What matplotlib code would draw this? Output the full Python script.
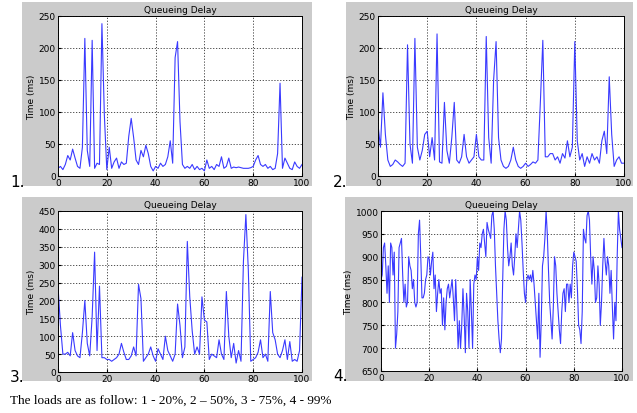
import numpy as np
import matplotlib
matplotlib.use("Agg")
import matplotlib.pyplot as plt
from matplotlib.patches import Rectangle

# queueing delay traces (ms)
t = np.arange(0, 101, 1)
delay_20 = [12, 15, 10, 18, 32, 25, 42, 28, 15, 12,
            45, 215, 40, 15, 212, 12, 20, 18, 238, 95,
            10, 45, 12, 22, 28, 12, 22, 18, 20, 62,
            90, 60, 25, 18, 40, 30, 48, 35, 15, 8,
            15, 12, 20, 15, 18, 30, 55, 20, 185, 210,
            85, 18, 12, 15, 12, 18, 10, 15, 10, 12,
            8, 25, 12, 15, 10, 18, 15, 30, 12, 15,
            28, 12, 14, 13, 14, 13, 12, 12, 12, 13,
            15, 25, 32, 18, 15, 18, 12, 15, 10, 12,
            35, 145, 12, 28, 20, 12, 10, 22, 15, 12,
            18]
delay_50 = [80, 45, 130, 65, 25, 15, 18, 25, 22, 18,
            15, 20, 205, 50, 20, 215, 45, 25, 40, 65,
            70, 30, 60, 25, 222, 22, 20, 115, 40, 20,
            60, 115, 25, 20, 30, 65, 30, 20, 25, 30,
            65, 30, 25, 25, 218, 60, 20, 150, 210, 60,
            25, 15, 12, 15, 25, 45, 25, 15, 12, 15,
            20, 15, 18, 22, 20, 25, 115, 212, 30, 30,
            35, 35, 25, 30, 20, 35, 28, 55, 30, 45,
            210, 55, 25, 35, 15, 30, 20, 35, 25, 30,
            20, 55, 70, 35, 155, 65, 15, 25, 30, 20,
            20]
delay_75 = [240, 130, 50, 50, 55, 45, 110, 60, 45, 40,
            110, 200, 80, 45, 155, 335, 60, 240, 40, 40,
            35, 35, 30, 35, 40, 50, 80, 55, 35, 35,
            45, 70, 45, 245, 205, 30, 40, 50, 70, 45,
            30, 65, 50, 35, 100, 60, 45, 30, 50, 190,
            130, 40, 70, 365, 210, 115, 50, 70, 50, 210,
            145, 140, 35, 50, 45, 40, 90, 50, 35, 225,
            100, 40, 80, 25, 60, 30, 310, 440, 285, 30,
            35, 40, 55, 90, 40, 50, 30, 225, 110, 90,
            50, 40, 60, 90, 35, 85, 30, 35, 30, 60,
            265]

t4 = np.arange(0, 100.5, 0.5)
delay_99 = [850, 860, 920, 930, 880, 820, 880, 800, 930, 920,
            860, 910, 700, 730, 780, 920, 930, 940, 860, 800,
            840, 790, 800, 900, 880, 870, 830, 850, 800, 790,
            800, 950, 980, 900, 810, 810, 820, 850, 860, 900,
            895, 860, 890, 910, 830, 860, 780, 820, 850, 820,
            830, 750, 810, 740, 800, 830, 840, 810, 830, 850,
            810, 760, 850, 780, 700, 760, 700, 750, 830, 770,
            690, 820, 780, 700, 850, 780, 700, 840, 860, 850,
            900, 870, 930, 920, 950, 960, 930, 900, 975, 960,
            950, 940, 990, 1000, 960, 880, 820, 760, 720, 690,
            720, 850, 960, 1000, 980, 920, 880, 900, 930, 880,
            860, 900, 950, 920, 960, 1000, 980, 930, 870, 820,
            800, 850, 860, 850, 860, 845, 870, 840, 800, 760,
            720, 820, 680, 760, 880, 900, 940, 1000, 950, 870,
            800, 760, 720, 790, 900, 880, 820, 780, 740, 710,
            780, 820, 830, 780, 840, 840, 800, 840, 810, 880,
            910, 900, 890, 830, 750, 740, 710, 780, 960, 940,
            930, 990, 1000, 980, 900, 840, 900, 870, 800, 810,
            880, 840, 750, 800, 880, 940, 890, 860, 900, 880,
            820, 870, 790, 720, 800, 760, 900, 1000, 960, 940,
            920]

W, H = 637, 414
fig = plt.figure(figsize=(W / 100, H / 100), dpi=100)
fig.patch.set_facecolor("white")


def px_rect(x0, y0, x1, y1):
    return [x0 / W, 1 - y1 / H, (x1 - x0) / W, (y1 - y0) / H]


# grey matlab figure backgrounds
for x0, y0, x1, y1 in [(22, 3, 312, 187), (346, 3, 633, 187),
                       (22, 198, 312, 382), (345, 198, 633, 382)]:
    fig.patches.append(Rectangle((x0 / W, 1 - y1 / H), (x1 - x0) / W, (y1 - y0) / H,
                                 transform=fig.transFigure, facecolor="#cbcbcb",
                                 edgecolor="none", zorder=-5))

panels = [
    (t, delay_20, px_rect(58, 17, 302, 177), (0, 250), np.arange(0, 251, 50)),
    (t, delay_50, px_rect(378, 17, 624, 177), (0, 250), np.arange(0, 251, 50)),
    (t, delay_75, px_rect(58, 212, 302, 373), (0, 450), np.arange(0, 451, 50)),
    (t4, delay_99, px_rect(381, 212, 622, 372), (650, 1000), np.arange(650, 1001, 50)),
]

for x, y, rect, ylim, yt in panels:
    ax = fig.add_axes(rect)
    ax.set_zorder(2)
    ax.plot(x, y, color="#3a3aff", lw=0.8)
    ax.set_xlim(0, 100)
    ax.set_ylim(*ylim)
    ax.set_xticks([0, 20, 40, 60, 80, 100])
    ax.set_yticks(yt)
    ax.grid(True, color="#333333", linestyle=(0, (1.5, 2)), lw=0.6)
    ax.tick_params(direction="in", length=2, labelsize=6.5, pad=1.5)
    ax.set_title("Queueing Delay", fontsize=6.5, pad=3)
    ax.set_ylabel("Time (ms)", fontsize=6.5, labelpad=2)
    for s in ax.spines.values():
        s.set_linewidth(0.7)

for lab, xp, yp in [("1.", 10, 183), ("2.", 333, 183), ("3.", 10, 378), ("4.", 333, 377)]:
    fig.text(xp / W, 1 - yp / H, lab, fontsize=11, va="center", ha="left", zorder=3)

fig.text(10 / W, 1 - 401 / H, "The loads are as follow: 1 - 20%, 2 \u2013 50%, 3 - 75%, 4 - 99%",
         family="Liberation Serif", fontsize=9.5, va="center", ha="left")

fig.savefig("out.png", dpi=100)
